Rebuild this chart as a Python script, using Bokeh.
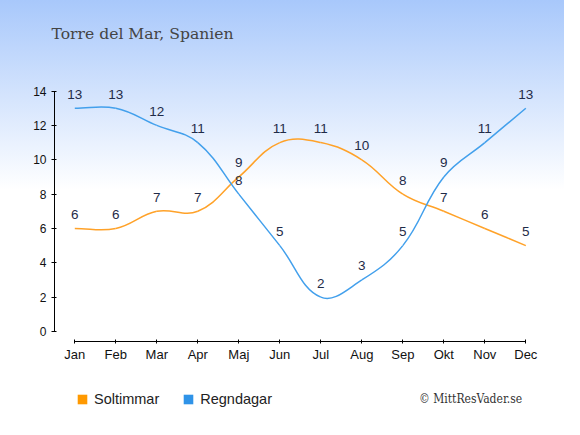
import math
from bokeh.plotting import figure
from bokeh.layouts import column
from bokeh.models import FixedTicker, Label, Legend, LegendItem, Range1d
from bokeh.core.properties import value
from bokeh.embed import file_html
from bokeh.resources import INLINE

# ---- data ----
months = ["Jan", "Feb", "Mar", "Apr", "Maj", "Jun", "Jul", "Aug", "Sep", "Okt", "Nov", "Dec"]
soltimmar = [6, 6, 7, 7, 9, 11, 11, 10, 8, 7, 6, 5]
regndagar = [13, 13, 12, 11, 8, 5, 2, 3, 5, 9, 11, 13]
y_ticks = [0, 2, 4, 6, 8, 10, 12, 14]
series_names = ["Soltimmar", "Regndagar"]
title_text = "Torre del Mar, Spanien"
credit_text = "\u00a9 MittResVader.se"

# ---- style ----
ORANGE_LINE = "#ffa229"
BLUE_LINE = "#43a0ec"
ORANGE = "#ff9900"
BLUE = "#2f93e8"
LABEL_COLOR = "#1f2b48"
PX_X = 41.0   # pixels per month (spline tension is computed in pixel space)
PX_Y = 17.17  # pixels per unit
NAN = float("nan")


def spline_segments(xs, ys, tension=0.4):
    """Bezier control points for a smooth curve through the data points."""
    n = len(xs)
    cp_prev, cp_next = [], []
    for i in range(n):
        x, y = xs[i], ys[i]
        px, py = (xs[i - 1], ys[i - 1]) if i > 0 else (x, y)
        nx, ny = (xs[i + 1], ys[i + 1]) if i < n - 1 else (x, y)
        d01 = math.hypot((x - px) * PX_X, (y - py) * PX_Y)
        d12 = math.hypot((nx - x) * PX_X, (ny - y) * PX_Y)
        tot = d01 + d12
        s01 = d01 / tot if tot else 0
        s12 = d12 / tot if tot else 0
        fa, fb = tension * s01, tension * s12
        cp_prev.append((x - fa * (nx - px), y - fa * (ny - py)))
        cp_next.append((x + fb * (nx - px), y + fb * (ny - py)))
    seg = dict(x0=[], y0=[], x1=[], y1=[], cx0=[], cy0=[], cx1=[], cy1=[])
    for i in range(n - 1):
        seg["x0"].append(xs[i]); seg["y0"].append(ys[i])
        seg["x1"].append(xs[i + 1]); seg["y1"].append(ys[i + 1])
        seg["cx0"].append(cp_next[i][0]); seg["cy0"].append(cp_next[i][1])
        seg["cx1"].append(cp_prev[i + 1][0]); seg["cy1"].append(cp_prev[i + 1][1])
    return seg


xs = list(range(len(months)))

# ---------------- main chart ----------------
p = figure(width=564, height=375,
           x_range=Range1d(-0.495, 11.48), y_range=Range1d(-0.582, 15.78),
           output_backend="svg", toolbar_location=None,
           min_border_left=54, min_border_right=19,
           min_border_top=60, min_border_bottom=34)

p.background_fill_alpha = 0
p.border_fill_alpha = 0
p.outline_line_color = None
p.styles = {"background": "linear-gradient(to bottom, #a8c8fb 0px, #ffffff 190px, #ffffff 100%)"}
p.xgrid.visible = False
p.ygrid.visible = False

p.title.text = title_text
p.title.align = "left"
p.title.offset = -3
p.title.standoff = 35
p.title.text_font = "DejaVu Serif"
p.title.text_font_size = "15.6px"
p.title.text_font_style = "normal"
p.title.text_color = "#444444"

for ax in (p.xaxis[0], p.yaxis[0]):
    ax.axis_line_color = "#000000"
    ax.major_tick_line_color = "#000000"
    ax.minor_tick_line_color = None
    ax.major_label_text_font = "Liberation Sans"
    ax.major_label_text_color = "#111111"

p.xaxis.ticker = FixedTicker(ticks=xs)
p.xaxis.major_label_overrides = {i: m for i, m in enumerate(months)}
p.xaxis.bounds = (xs[0], xs[-1])
p.xaxis.major_tick_in = 2
p.xaxis.major_tick_out = 2
p.xaxis.major_label_standoff = 3
p.xaxis.major_label_text_font_size = "13px"

p.yaxis.ticker = FixedTicker(ticks=y_ticks)
p.yaxis.bounds = (y_ticks[0], y_ticks[-1])
p.yaxis.major_tick_in = 2
p.yaxis.major_tick_out = 3
p.yaxis.major_label_standoff = 5
p.yaxis.major_label_text_font_size = "12px"

s1 = spline_segments(xs, soltimmar)
s2 = spline_segments(xs, regndagar)
p.bezier(source=s1, x0="x0", y0="y0", x1="x1", y1="y1", cx0="cx0", cy0="cy0",
         cx1="cx1", cy1="cy1", line_color=ORANGE_LINE, line_width=1.5)
p.bezier(source=s2, x0="x0", y0="y0", x1="x1", y1="y1", cx0="cx0", cy0="cy0",
         cx1="cx1", cy1="cy1", line_color=BLUE_LINE, line_width=1.5)

for vals in (soltimmar, regndagar):
    p.text(x=xs, y=vals, text=[str(v) for v in vals], y_offset=-14,
           text_align="center", text_baseline="middle",
           text_font=value("Liberation Sans"), text_font_size="13.5px",
           text_color=LABEL_COLOR)

# ---------------- legend strip (frame is aligned with the chart frame) ----------------
q = figure(width=564, height=44, x_range=Range1d(0, 1), y_range=Range1d(0, 1),
           x_axis_type=None, y_axis_type=None,
           output_backend="svg", toolbar_location=None,
           min_border_left=54, min_border_right=19, min_border_top=0, min_border_bottom=0)
q.background_fill_color = "#ffffff"
q.border_fill_color = "#ffffff"
q.outline_line_color = None
q.xgrid.visible = False
q.ygrid.visible = False

# legend swatches: area glyphs with no drawable point, used only by the legend
r_sol = q.quad(left=[NAN], right=[NAN], top=[NAN], bottom=[NAN], fill_color=ORANGE, line_color=None)
r_reg = q.quad(left=[NAN], right=[NAN], top=[NAN], bottom=[NAN], fill_color=BLUE, line_color=None)
legend = Legend(items=[LegendItem(label=series_names[0], renderers=[r_sol]),
                       LegendItem(label=series_names[1], renderers=[r_reg])],
                location=(22, 12.5), orientation="horizontal",
                glyph_width=12, glyph_height=12, label_standoff=6, spacing=23,
                padding=0, margin=0, border_line_alpha=0, background_fill_alpha=0,
                label_text_font="Liberation Sans", label_text_font_size="14.5px",
                label_text_color="#222222", label_height=12)
q.add_layout(legend)
q.add_layout(Label(x=364.5, y=21, x_units="screen", y_units="screen", text=credit_text,
                   text_font="DejaVu Serif Condensed", text_font_size="12px",
                   text_color="#333333", text_baseline="alphabetic"))

layout = column(p, q, spacing=0)
open("out.html", "w").write(file_html(layout, INLINE))
